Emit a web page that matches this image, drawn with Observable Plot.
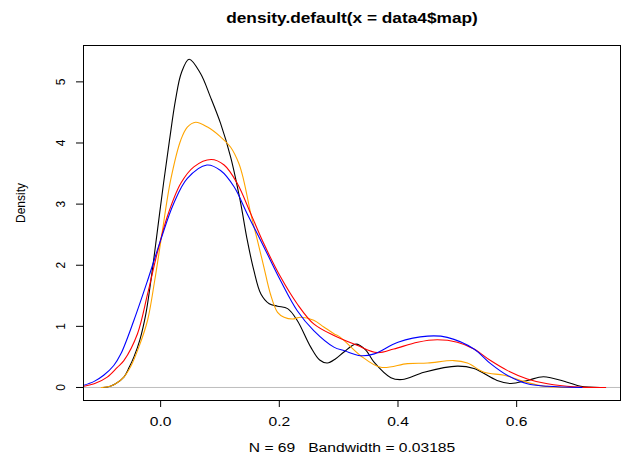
<!DOCTYPE html>
<html>
<head>
<meta charset="utf-8">
<script src="https://cdn.jsdelivr.net/npm/d3@7"></script>
<script src="https://cdn.jsdelivr.net/npm/@observablehq/plot@0.6"></script>
<style>
  html, body { margin: 0; padding: 0; background: white; }
</style>
</head>
<body>
<div id="chart"></div>
<script>
const titleText = "density.default(x = data4$map)";
const xLabel = "N = 69\u00a0\u00a0 Bandwidth = 0.03185";
const yLabel = "Density";
const xTicks = [0, 0.2, 0.4, 0.6];
const yTicks = [0, 1, 2, 3, 4, 5];

const blackX = [-0.097, -0.085, -0.076, -0.062, -0.053, -0.045, -0.035, -0.025, -0.015, -0.005, 0.005, 0.015, 0.025, 0.035, 0.048, 0.067, 0.084, 0.101, 0.118, 0.134, 0.146, 0.157, 0.169, 0.183, 0.197, 0.214, 0.23, 0.253, 0.268, 0.281, 0.295, 0.309, 0.329, 0.345, 0.36, 0.388, 0.407, 0.444, 0.50, 0.528, 0.567, 0.59, 0.618, 0.645, 0.685, 0.708, 0.74];
const blackY = [0, 0.02, 0.06, 0.17, 0.33, 0.50, 0.78, 1.2, 1.85, 2.6, 3.35, 4.05, 4.7, 5.15, 5.37, 5.14, 4.75, 4.32, 3.77, 3.06, 2.41, 1.92, 1.53, 1.37, 1.33, 1.29, 1.10, 0.66, 0.45, 0.40, 0.47, 0.58, 0.71, 0.62, 0.41, 0.16, 0.13, 0.25, 0.35, 0.31, 0.115, 0.065, 0.115, 0.175, 0.087, 0.02, 0];

const orangeX = [-0.1, -0.085, -0.076, -0.062, -0.05, -0.036, -0.022, -0.01, 0.002, 0.017, 0.034, 0.045, 0.059, 0.079, 0.101, 0.118, 0.132, 0.14, 0.152, 0.163, 0.174, 0.185, 0.197, 0.208, 0.222, 0.236, 0.258, 0.275, 0.292, 0.303, 0.337, 0.371, 0.416, 0.45, 0.494, 0.517, 0.545, 0.579, 0.607, 0.64, 0.67, 0.70];
const orangeY = [0, 0.02, 0.06, 0.17, 0.35, 0.68, 1.1, 1.75, 2.5, 3.4, 4.05, 4.26, 4.34, 4.26, 4.10, 3.93, 3.66, 3.39, 2.84, 2.41, 1.97, 1.53, 1.23, 1.15, 1.12, 1.15, 1.10, 0.99, 0.88, 0.82, 0.52, 0.33, 0.39, 0.40, 0.44, 0.40, 0.25, 0.20, 0.115, 0.03, 0.005, 0];

const redX = [-0.135, -0.112, -0.09, -0.073, -0.062, -0.039, -0.022, -0.006, 0.011, 0.034, 0.056, 0.085, 0.107, 0.129, 0.152, 0.174, 0.202, 0.230, 0.258, 0.292, 0.331, 0.365, 0.393, 0.433, 0.466, 0.50, 0.528, 0.556, 0.584, 0.618, 0.652, 0.697, 0.75];
const redY = [0.01, 0.06, 0.17, 0.33, 0.44, 0.88, 1.53, 2.19, 2.79, 3.34, 3.61, 3.73, 3.64, 3.34, 2.84, 2.35, 1.81, 1.37, 1.04, 0.85, 0.69, 0.57, 0.63, 0.74, 0.78, 0.74, 0.63, 0.44, 0.28, 0.14, 0.06, 0.01, 0];

const blueX = [-0.135, -0.112, -0.096, -0.079, -0.067, -0.045, -0.022, 0.0, 0.022, 0.045, 0.078, 0.101, 0.124, 0.146, 0.174, 0.202, 0.230, 0.258, 0.292, 0.31, 0.337, 0.36, 0.40, 0.45, 0.483, 0.528, 0.556, 0.584, 0.618, 0.652, 0.71];
const blueY = [0.02, 0.10, 0.20, 0.36, 0.55, 1.10, 1.75, 2.41, 3.01, 3.42, 3.64, 3.55, 3.28, 2.84, 2.30, 1.75, 1.26, 0.93, 0.66, 0.6, 0.52, 0.55, 0.74, 0.84, 0.82, 0.63, 0.39, 0.20, 0.06, 0.02, 0];

const seriesNames = ["black", "orange", "red", "blue"];
const seriesColors = ["black", "#FFA500", "#FF0000", "#0000FF"];
const seriesXs = [blackX, orangeX, redX, blueX];
const seriesYs = [blackY, orangeY, redY, blueY];

const rows = [];
seriesNames.forEach((name, i) => {
  seriesXs[i].forEach((x, j) => rows.push({series: name, x, y: seriesYs[i][j]}));
});

const font = "'Liberation Sans', Arial, Helvetica, sans-serif";

const chart = Plot.plot({
  width: 621,
  height: 454,
  marginLeft: 83,
  marginRight: 1,
  marginTop: 45,
  marginBottom: 54,
  style: {fontFamily: font, fontSize: "12px", background: "white", color: "black"},
  x: {domain: [-0.13, 0.775], label: null},
  y: {domain: [-0.213, 5.595], label: null},
  color: {domain: seriesNames, range: seriesColors},
  marks: [
    Plot.ruleY([0], {stroke: "#BEBEBE", strokeWidth: 1}),
    Plot.line(rows, {x: "x", y: "y", z: "series", stroke: "series", strokeWidth: 1.1, curve: "catmull-rom", clip: true}),
    Plot.frame({stroke: "black", strokeWidth: 1}),
    Plot.axisX({ticks: xTicks, tickSize: 7, tickPadding: 10, tickFormat: d3.format(".1f"), fontSize: 12, label: null}),
    Plot.axisY({ticks: yTicks, tickSize: 7, tickFormat: () => "", label: null}),
    Plot.text(yTicks, {x: -0.13, y: d => d, text: d => String(d), rotate: -90, dx: -19, lineAnchor: "bottom", textAnchor: "middle", fontSize: 12}),
    Plot.text([titleText], {frameAnchor: "top", dy: -23, lineAnchor: "bottom", text: d => d, fontWeight: "bold", fontSize: 14.4}),
    Plot.text([xLabel], {frameAnchor: "bottom", dy: 43, lineAnchor: "top", text: d => d, fontSize: 12}),
    Plot.text([yLabel], {frameAnchor: "left", dx: -59, rotate: -90, lineAnchor: "bottom", text: d => d, fontSize: 12})
  ]
});
document.getElementById("chart").appendChild(chart);

// The reference's horizontal texts are drawn slightly wide; stretch them to match.
function stretch(match, factor) {
  chart.querySelectorAll("text").forEach(t => {
    if (!match(t.textContent)) return;
    const len = t.getComputedTextLength();
    t.setAttribute("textLength", (len * factor).toFixed(1));
    t.setAttribute("lengthAdjust", "spacingAndGlyphs");
  });
}
const tickStrings = xTicks.map(d3.format(".1f"));
stretch(s => s === titleText, 1.2);
stretch(s => s === xLabel, 1.3);
stretch(s => tickStrings.includes(s), 1.3);
</script>
</body>
</html>
